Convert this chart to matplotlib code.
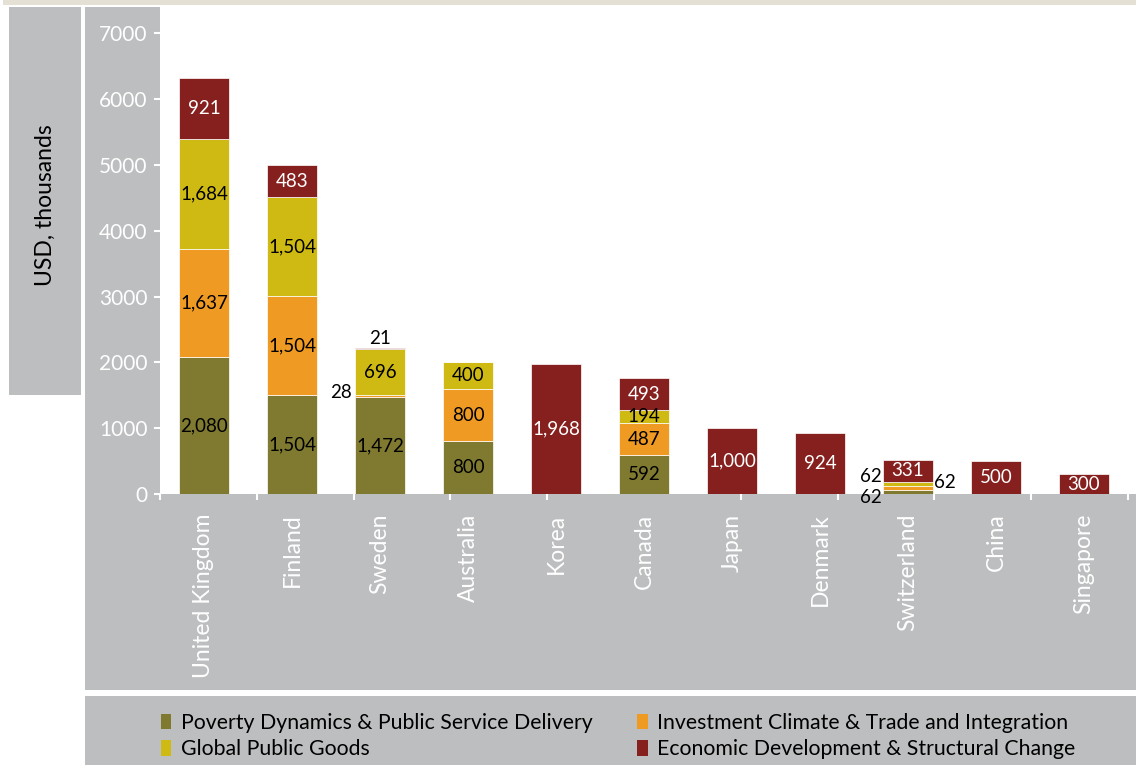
import matplotlib
matplotlib.use('Agg')
import matplotlib.pyplot as plt
from matplotlib.patches import Rectangle, Patch
import numpy as np

plt.rcParams['font.family'] = ['Lato', 'DejaVu Sans']

countries = ['United Kingdom', 'Finland', 'Sweden', 'Australia', 'Korea', 'Canada',
             'Japan', 'Denmark', 'Switzerland', 'China', 'Singapore']
poverty = [2080, 1504, 1472, 800, 0, 592, 0, 0, 62, 0, 0]
investment = [1637, 1504, 28, 800, 0, 487, 0, 0, 62, 0, 0]
global_goods = [1684, 1504, 696, 400, 0, 194, 0, 0, 62, 0, 0]
econ = [921, 483, 21, 0, 1968, 493, 1000, 924, 331, 500, 300]

series_names = ['Poverty Dynamics & Public Service Delivery',
                'Investment Climate & Trade and Integration',
                'Global Public Goods',
                'Economic Development & Structural Change']
colors = ['#7f7a30', '#ef9a22', '#cfba14', '#86201e']
text_colors = ['black', 'black', 'black', 'white']

GREY = '#bdbec0'
W, H = 1136, 765


def px_box(x0, y0, x1, y1):
    # figure-fraction rectangle from pixel corners (origin top-left)
    return (x0 / W, 1 - y1 / H), (x1 - x0) / W, (y1 - y0) / H


fig = plt.figure(figsize=(W / 100, H / 100), dpi=100)

# background panels, kept under the axes so tick labels sit on top
for box, col in [((3, 0, 1136, 5), '#e4e0d3'),
                 ((9, 7, 81, 395), GREY),
                 ((85, 7, 160, 690), GREY),
                 ((85, 494, 1136, 690), GREY),
                 ((85, 696, 1136, 765), GREY)]:
    xy, w, h = px_box(*box)
    fig.patches.append(Rectangle(xy, w, h, transform=fig.transFigure,
                                 facecolor=col, edgecolor='none', zorder=-5))

xy, w, h = px_box(160, 7, 1128, 494)
ax = fig.add_axes([xy[0], xy[1], w, h])
ax.set_facecolor('white')

x = np.arange(len(countries))
bw = 0.57
bottom = np.zeros(len(countries))
stacks = [poverty, investment, global_goods, econ]
for vals, col, tcol in zip(stacks, colors, text_colors):
    vals = np.array(vals, dtype=float)
    ax.bar(x, vals, bw, bottom=bottom, color=col, edgecolor='white', linewidth=0.5, zorder=2)
    for i, v in enumerate(vals):
        if v >= 150:
            ax.text(x[i], bottom[i] + v / 2, f'{int(v):,}', ha='center', va='center',
                    color=tcol, fontsize=13.5, zorder=3)
    bottom += vals

# small segments labelled beside the bars
lab = dict(textcoords='offset points', fontsize=13.5, annotation_clip=False)
i = countries.index('Sweden')
ax.annotate(f'{investment[i]}', (x[i] - bw / 2, poverty[i] + investment[i] / 2),
            xytext=(-2, 3), ha='right', va='center', **lab)
ax.annotate(f'{econ[i]}', (x[i], bottom[i]), xytext=(0, 1),
            ha='center', va='bottom', **lab)
i = countries.index('Switzerland')
ax.annotate(f'{poverty[i]}', (x[i] - bw / 2, poverty[i] / 2),
            xytext=(-1, -4), ha='right', va='center', **lab)
ax.annotate(f'{investment[i]}', (x[i] + bw / 2, poverty[i] + investment[i] / 2),
            xytext=(1, 4), ha='left', va='center', **lab)
ax.annotate(f'{global_goods[i]}', (x[i] - bw / 2, poverty[i] + investment[i] + global_goods[i] / 2),
            xytext=(-1, 5), ha='right', va='center', **lab)

ax.set_xlim(-0.5, len(countries) - 0.5)
ax.set_ylim(0, 7400)
ax.set_yticks(np.arange(0, 7001, 1000))
ax.set_xticks(x)
ax.set_xticklabels(countries, rotation=90, color='white', fontsize=16.5)
ax.set_xticks(-0.5 + 1.1 * np.arange(11), minor=True)
ax.tick_params(axis='x', which='major', length=0, pad=14)
ax.tick_params(axis='x', which='minor', length=4.5, width=1.5, color='white')
ax.tick_params(axis='y', length=4, width=1.5, color='white', labelcolor='white',
               labelsize=15, pad=5)
for s in ax.spines.values():
    s.set_visible(False)

fig.text(45 / W, 1 - 205 / H, 'USD, thousands', rotation=90, ha='center', va='center',
         fontsize=16.5, color='black')

order = [0, 2, 1, 3]
handles = [Patch(facecolor=colors[k], edgecolor='none') for k in order]
fig.legend(handles, [series_names[k] for k in order], ncol=2, frameon=False,
           loc='center left', bbox_to_anchor=(150 / W, 1 - 736 / H), fontsize=15.3,
           handlelength=0.5, handleheight=0.75, handletextpad=0.45, columnspacing=2.1,
           labelspacing=0.3, borderpad=0)

fig.savefig('out.png', dpi=100)
